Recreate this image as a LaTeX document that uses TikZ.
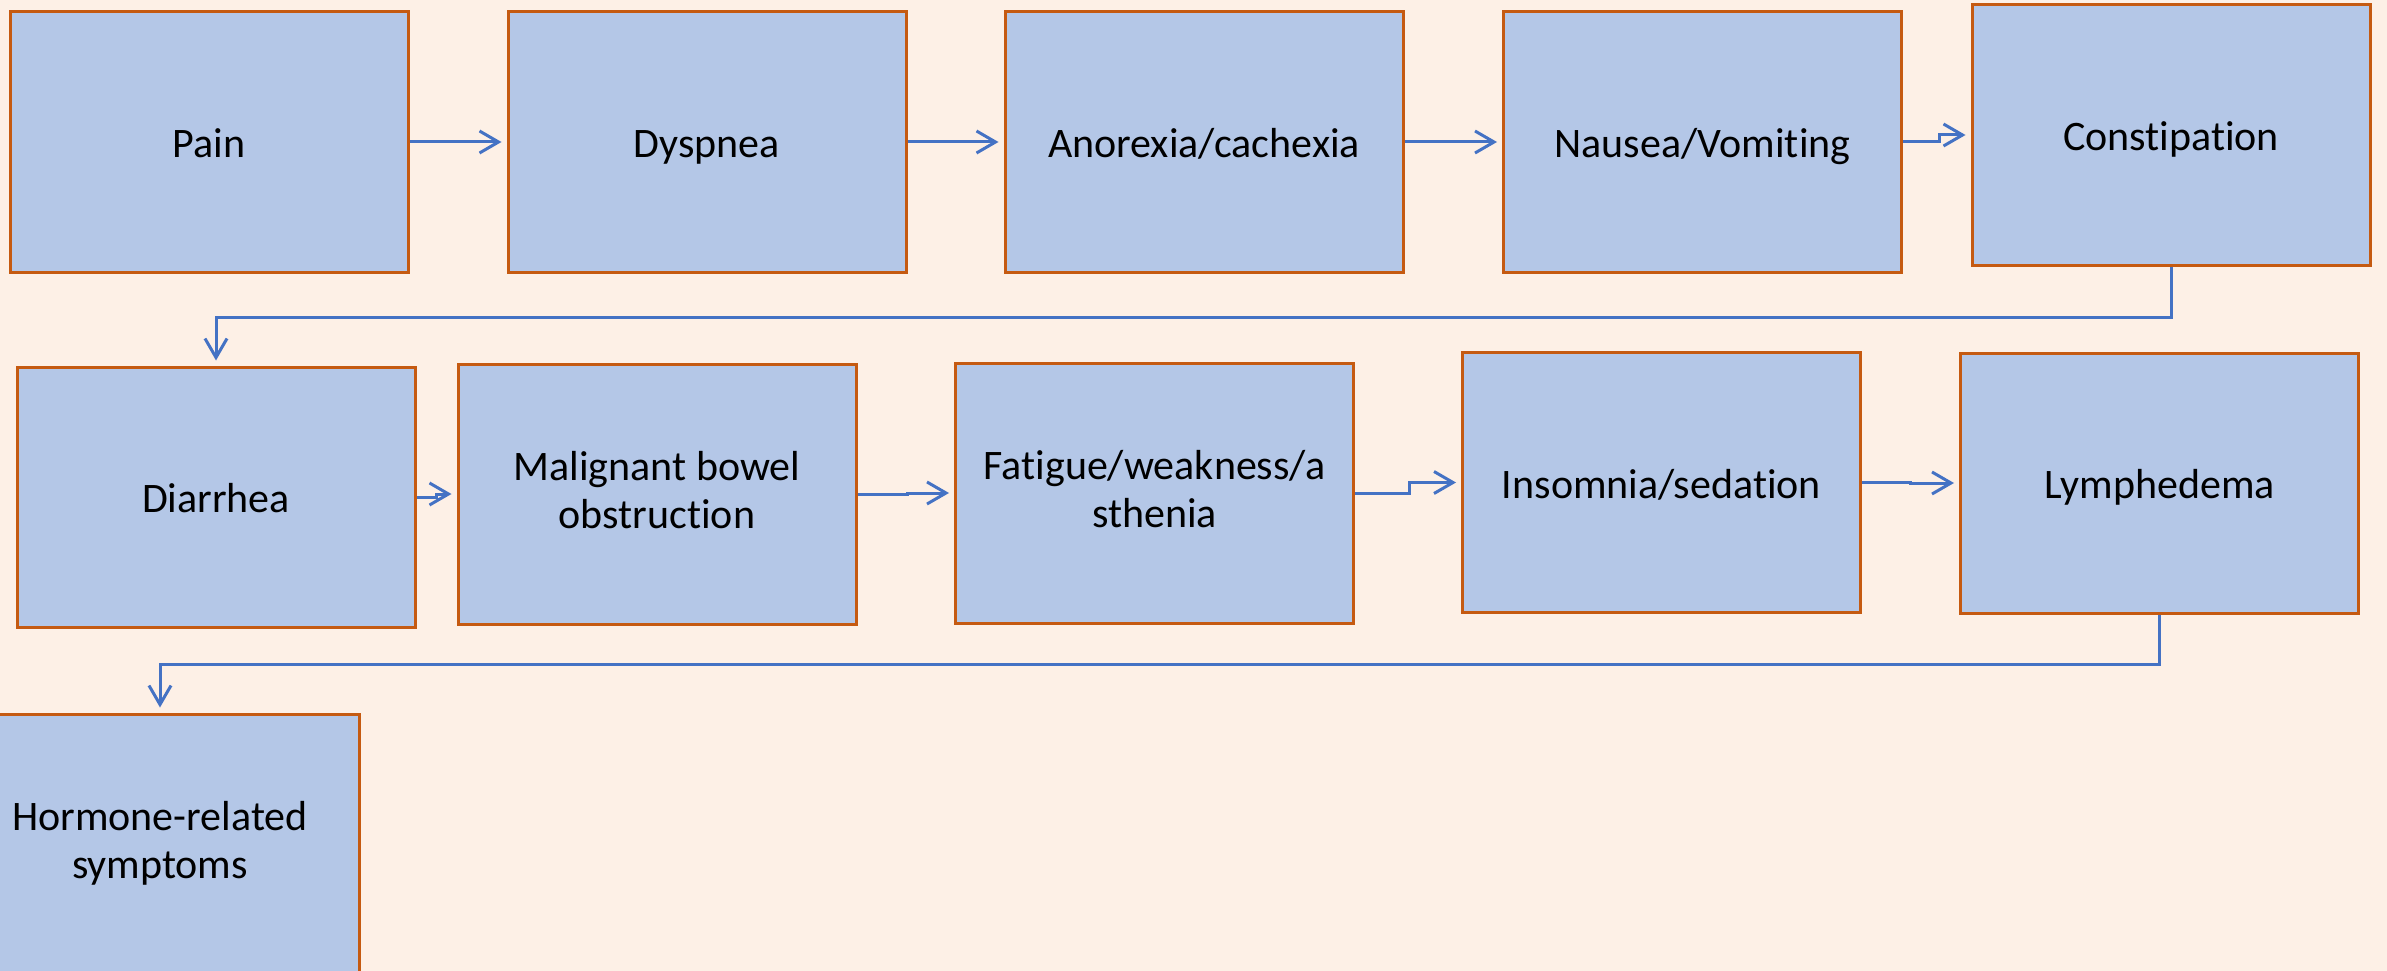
\documentclass[tikz,border=0pt]{standalone}
\usepackage{fontspec}
\setmainfont{Carlito}[RawFeature={-liga}]
\usetikzlibrary{arrows.meta}
\definecolor{bgc}{HTML}{FDF0E6}
\definecolor{boxfill}{HTML}{B4C7E7}
\definecolor{boxline}{HTML}{C55A11}
\definecolor{arrowc}{HTML}{4472C4}
\newcommand\boxstrut{\rule[-8.4pt]{0pt}{48pt}}
\newcommand\boxstrutml{\rule[-8.4pt]{0pt}{56pt}}
\tikzset{
  sbox/.style={draw=boxline, fill=boxfill, line width=3pt, rectangle,
    minimum width=398pt, minimum height=260pt, inner sep=0pt, align=center,
    font=\fontsize{42}{48}\selectfont,
    execute at begin node=\boxstrut, execute at end node=\boxstrut},
  mlbox/.style={sbox, execute at begin node=\boxstrutml},
  conn/.style={draw=arrowc, line width=3pt,
    -{Straight Barb[length=19pt,width=22pt,line width=3pt]}, shorten >=5pt}
}
\begin{document}
\begin{tikzpicture}[x=1pt,y=-1pt]
\useasboundingbox (0,0) rectangle (2387,971);
\fill[bgc] (0,0) rectangle (2387,971);
% row 1
\node[sbox] (pain) at (209,142) {Pain};
\node[sbox] (dysp) at (707,142) {Dyspnea};
\node[sbox] (anor) at (1204,142) {Anorexia/cachexia};
\node[sbox] (naus) at (1702.5,142) {Nausea/Vomiting};
\node[sbox] (cons) at (2171,135) {Constipation};
% row 2
\node[sbox] (diar) at (216,497) {Diarrhea};
\node[mlbox] (malb) at (657,494) {Malignant bowel\\obstruction};
\node[mlbox] (fati) at (1154.5,493) {Fatigue/weakness/a\\sthenia};
\node[sbox] (inso) at (1661.5,482.5) {Insomnia/sedation};
\node[sbox] (lymp) at (2159.5,483) {Lymphedema};
% row 3
\node[mlbox] (horm) at (160,844) {Hormone-related\\symptoms};
% connectors
\draw[conn] (pain.east) -- (dysp.west);
\draw[conn] (dysp.east) -- (anor.west);
\draw[conn] (anor.east) -- (naus.west);
\draw[conn] (naus.east) -- ++(36,0) |- (cons.west);
\draw[conn] (cons.south) -- ++(0,51) -| (diar.north);
\draw[conn] (diar.east) -- ++(20,0) |- (malb.west);
\draw[conn] (malb.east) -- ++(50,0) |- (fati.west);
\draw[conn] (fati.east) -- ++(54,0) |- (inso.west);
\draw[conn] (inso.east) -- ++(48,0) |- (lymp.west);
\draw[conn] (lymp.south) -- ++(0,50) -| (horm.north);
\end{tikzpicture}
\end{document}
